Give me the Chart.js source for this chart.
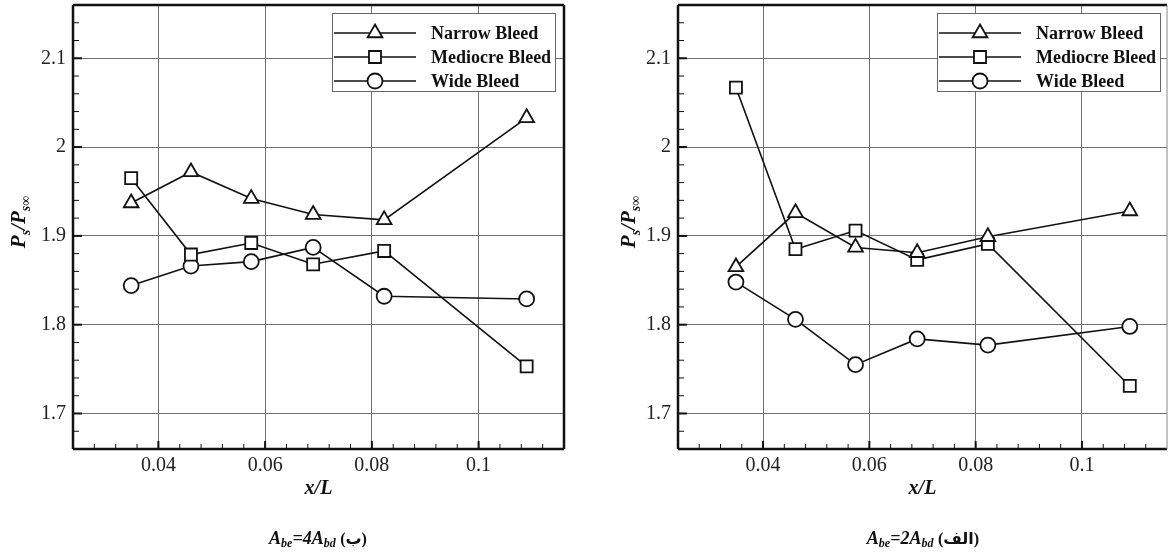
<!DOCTYPE html>
<html>
<head>
<meta charset="utf-8">
<script src="https://cdn.jsdelivr.net/npm/chart.js@4.4.1/dist/chart.umd.min.js"></script>
<style>
  body { margin: 0; background: #fff; }
  #wrap { position: relative; width: 1168px; height: 556px; overflow: hidden; background: #fff; }
  canvas { position: absolute; top: 0; }
  .cap {
    position: absolute; top: 529px; transform: translateX(-50%);
    font: italic bold 18px 'Liberation Serif', serif; line-height: 18px;
    white-space: nowrap; color: #111;
  }
  .cap sub { font-size: 12px; line-height: 0; vertical-align: -3px; }
  .cap .ar { font-style: normal; font-family: 'Liberation Serif', 'DejaVu Sans', serif; font-size: 16px; }
</style>
</head>
<body>
<div id="wrap">
  <canvas id="chartB" width="584" height="556" style="left:0"></canvas>
  <canvas id="chartA" width="584" height="556" style="left:584px"></canvas>
  <div class="cap" style="left:318px">A<sub>be</sub>=4A<sub>bd</sub> <span class="ar">(ب)</span></div>
  <div class="cap" style="left:923px">A<sub>be</sub>=2A<sub>bd</sub> <span class="ar">(الف)</span></div>
</div>
<script>
const xPos = [0.0349, 0.0461, 0.0574, 0.0690, 0.0823, 0.1090];
const seriesNames = ['Narrow Bleed', 'Mediocre Bleed', 'Wide Bleed'];

// panel (ب): Abe = 4Abd
const narrow4 = [1.937, 1.972, 1.942, 1.924, 1.918, 2.033];
const mediocre4 = [1.965, 1.879, 1.892, 1.868, 1.883, 1.753];
const wide4 = [1.844, 1.866, 1.871, 1.887, 1.832, 1.829];

// panel (الف): Abe = 2Abd
const narrow2 = [1.865, 1.926, 1.887, 1.881, 1.899, 1.928];
const mediocre2 = [2.067, 1.885, 1.906, 1.873, 1.891, 1.731];
const wide2 = [1.848, 1.806, 1.755, 1.784, 1.777, 1.798];

const xTicks = [0.04, 0.06, 0.08, 0.1];
const yTicks = [1.7, 1.8, 1.9, 2, 2.1];

const serif = "'Liberation Serif', 'Times New Roman', serif";
const markerStyles = ['triangle', 'rect', 'circle'];
const markerSizes = [8.5, 8.5, 7.5];

function toPoints(ys) {
    return ys.map((v, i) => ({ x: xPos[i], y: v }));
}

function makeDataset(i, ys) {
    return {
        label: seriesNames[i],
        data: toPoints(ys),
        pointStyle: markerStyles[i],
        pointRadius: markerSizes[i],
        pointHoverRadius: markerSizes[i],
        borderColor: '#111',
        borderWidth: 1.6,
        pointBorderColor: '#111',
        pointBackgroundColor: '#fff',
        pointBorderWidth: 1.8,
        fill: false,
        tension: 0
    };
}

function seg(ctx, x1, y1, x2, y2) {
    ctx.beginPath();
    ctx.moveTo(x1, y1);
    ctx.lineTo(x2, y2);
    ctx.stroke();
}

// frame, inward ticks, legend box and axis titles
const decor = {
    id: 'decor',
    beforeDatasetsDraw(chart, args, opts) {
        const { ctx, chartArea: a, scales: { x, y } } = chart;
        ctx.save();
        ctx.strokeStyle = '#111';
        ctx.lineWidth = 1;
        for (let k = 1; k < 23; k++) {
            const px = x.getPixelForValue(0.024 + k * 0.004);
            seg(ctx, px, a.bottom, px, a.bottom - 5);
        }
        for (let k = 1; k < 25; k++) {
            const py = y.getPixelForValue(1.66 + k * 0.02);
            seg(ctx, a.left, py, a.left + 6, py);
        }
        ctx.lineWidth = 2;
        xTicks.forEach(v => {
            const px = x.getPixelForValue(v);
            seg(ctx, px, a.bottom, px, a.bottom - 8);
        });
        yTicks.forEach(v => {
            const py = y.getPixelForValue(v);
            seg(ctx, a.left, py, a.left + 9, py);
        });

        ctx.lineWidth = 2.5;
        seg(ctx, a.left, a.top, a.right, a.top);
        seg(ctx, a.left, a.top, a.left, a.bottom);
        seg(ctx, a.left, a.bottom, a.right, a.bottom);
        ctx.strokeStyle = opts.rightColor;
        ctx.lineWidth = opts.rightWidth;
        seg(ctx, a.right, a.top, a.right, a.bottom);
        ctx.restore();
    },
    afterDatasetsDraw(chart, args, opts) {
        const { ctx, chartArea: a } = chart;
        const bx = a.left + 259, by = a.top + 8, bw = 223, bh = 78;
        ctx.save();
        ctx.fillStyle = '#fff';
        ctx.fillRect(bx, by, bw, bh);
        ctx.strokeStyle = '#666';
        ctx.lineWidth = 1;
        ctx.strokeRect(bx + 0.5, by + 0.5, bw, bh);

        chart.data.datasets.forEach((ds, i) => {
            const ry = by + 20 + i * 24;
            ctx.strokeStyle = '#111';
            ctx.lineWidth = 1.6;
            seg(ctx, bx + 2, ry, bx + 84, ry);
            ctx.fillStyle = '#fff';
            ctx.lineWidth = 1.8;
            Chart.helpers.drawPoint(ctx, {
                pointStyle: ds.pointStyle,
                radius: ds.pointRadius,
                rotation: 0,
                borderWidth: 1.8
            }, bx + 43, ry);
            ctx.fillStyle = '#111';
            ctx.font = 'bold 18px ' + serif;
            ctx.textBaseline = 'middle';
            ctx.textAlign = 'left';
            ctx.fillText(ds.label, bx + 99, ry + 1);
        });
        ctx.restore();
    },
    afterDraw(chart, args, opts) {
        const { ctx, chartArea: a } = chart;
        ctx.save();
        ctx.fillStyle = '#111';
        ctx.textBaseline = 'alphabetic';

        // x title
        ctx.font = 'italic bold 20px ' + serif;
        ctx.textAlign = 'center';
        ctx.fillText('x/L', (a.left + a.right) / 2, 494);

        // y title, rotated, with subscripts
        const main = 'italic bold 21px ' + serif;
        const sub = 'italic bold 14px ' + serif;
        const parts = [['P', main, 0], ['s', sub, 5], ['/', main, 0], ['P', main, 0], ['s\u221E', sub, 5]];
        let total = 0;
        parts.forEach(p => { ctx.font = p[1]; total += ctx.measureText(p[0]).width; });
        ctx.translate(opts.titleX, 222);
        ctx.rotate(-Math.PI / 2);
        ctx.textAlign = 'left';
        let cx = -total / 2;
        parts.forEach(p => {
            ctx.font = p[1];
            ctx.fillText(p[0], cx, p[2]);
            cx += ctx.measureText(p[0]).width;
        });
        ctx.restore();
    }
};

function fixHeight(s) {
    s.height = 107;
    s.paddingLeft = 0;
    s.paddingRight = 0;
}

function makeChart(id, narrow, mediocre, wide, yWidth, padRight, titleX, rightColor, rightWidth) {
    const ctx = document.getElementById(id).getContext('2d');
    return new Chart(ctx, {
        type: 'line',
        data: {
            datasets: [makeDataset(0, narrow), makeDataset(1, mediocre), makeDataset(2, wide)]
        },
        plugins: [decor],
        options: {
            responsive: false,
            animation: false,
            devicePixelRatio: 1,
            layout: { autoPadding: false, padding: { top: 5, right: padRight, left: 0, bottom: 0 } },
            plugins: {
                legend: { display: false },
                tooltip: { enabled: false },
                decor: { titleX: titleX, rightColor: rightColor, rightWidth: rightWidth }
            },
            scales: {
                x: {
                    type: 'linear',
                    min: 0.024,
                    max: 0.116,
                    afterBuildTicks: s => { s.ticks = xTicks.map(v => ({ value: v })); },
                    afterFit: fixHeight,
                    ticks: {
                        callback: v => String(v),
                        font: { family: serif, size: 20 },
                        color: '#222',
                        padding: 5,
                        maxRotation: 0,
                        autoSkip: false
                    },
                    grid: { color: '#707070', lineWidth: 1, drawTicks: false },
                    border: { display: false }
                },
                y: {
                    type: 'linear',
                    min: 1.66,
                    max: 2.16,
                    afterBuildTicks: s => { s.ticks = yTicks.map(v => ({ value: v })); },
                    afterFit: s => {
                        s.width = yWidth;
                        s.paddingTop = 0;
                        s.paddingBottom = 0;
                    },
                    ticks: {
                        callback: v => String(v),
                        font: { family: serif, size: 20 },
                        color: '#222',
                        padding: 7
                    },
                    grid: { color: '#707070', lineWidth: 1, drawTicks: false },
                    border: { display: false }
                }
            }
        }
    });
}

makeChart('chartB', narrow4, mediocre4, wide4, 73, 20, 25, '#111', 2.5);
makeChart('chartA', narrow2, mediocre2, wide2, 94, 1, 51, '#888', 1);
</script>
</body>
</html>
